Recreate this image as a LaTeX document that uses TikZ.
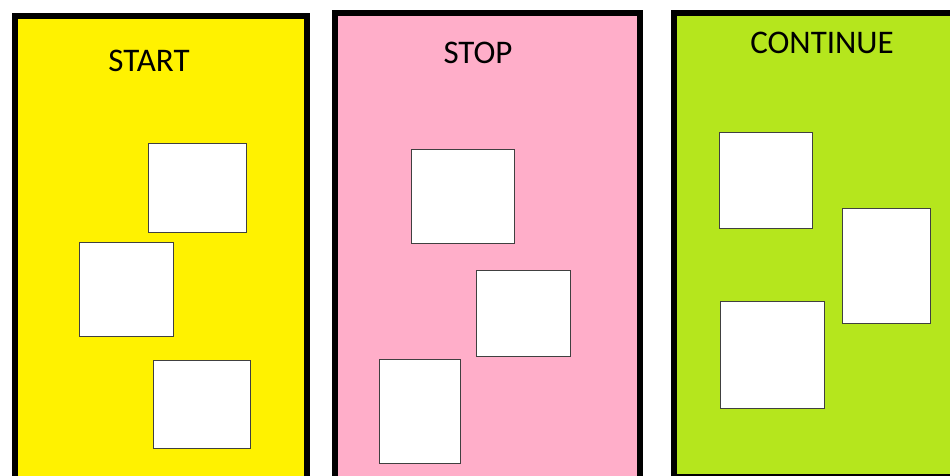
\documentclass[tikz,border=0pt]{standalone}
\usepackage{fontspec}
\setmainfont{Carlito}
\usetikzlibrary{positioning}
\definecolor{rsYellow}{HTML}{FFF200}
\definecolor{rsPink}{HTML}{FFAEC9}
\definecolor{rsLime}{HTML}{B5E61D}
\definecolor{rsEdge}{HTML}{404040}
\tikzset{
  rs-panel/.style={
    draw=black, line width=6pt, anchor=north west, inner sep=0pt
  },
  rs-note/.style={
    draw=rsEdge, line width=1.4pt, fill=white, anchor=north west,
    inner sep=0pt
  },
  rs-title/.style={font=\fontsize{33}{38}\selectfont, text=black, inner sep=0pt}
}
\begin{document}
\begin{tikzpicture}[x=1pt, y=-1pt]
\useasboundingbox (0,0) rectangle (950,475);
\clip (0,0) rectangle (950,475);
\fill[white] (0,0) rectangle (950,475);

% panels
\node[rs-panel, fill=rsYellow, minimum width=292pt, minimum height=466pt] (start) at (12,13) {};
\node[rs-panel, fill=rsPink, minimum width=305pt, minimum height=467pt] (stop) at (332,10) {};
\node[rs-panel, fill=rsLime, minimum width=300pt, minimum height=464pt] (cont) at (671,10) {};

\node[rs-title] (startlbl) at (149,61) {START};
\node[rs-title] (stoplbl) at (478,53) {STOP};
\node[rs-title] (contlbl) at (822,43) {CONTINUE};

% notes
\node[rs-note, minimum width=98pt, minimum height=89pt] (n1) at (148,143) {};
\node[rs-note, minimum width=94pt, minimum height=94pt] (n2) at (79,242) {};
\node[rs-note, minimum width=97pt, minimum height=88pt] (n3) at (153,360) {};

\node[rs-note, minimum width=103pt, minimum height=94pt] (n4) at (411,149) {};
\node[rs-note, minimum width=94pt, minimum height=86pt] (n5) at (476,270) {};
\node[rs-note, minimum width=81pt, minimum height=104pt] (n6) at (379,359) {};

\node[rs-note, minimum width=93pt, minimum height=96pt] (n7) at (719,132) {};
\node[rs-note, minimum width=88pt, minimum height=115pt] (n8) at (842,208) {};
\node[rs-note, minimum width=104pt, minimum height=107pt] (n9) at (720,301) {};
\end{tikzpicture}
\end{document}
